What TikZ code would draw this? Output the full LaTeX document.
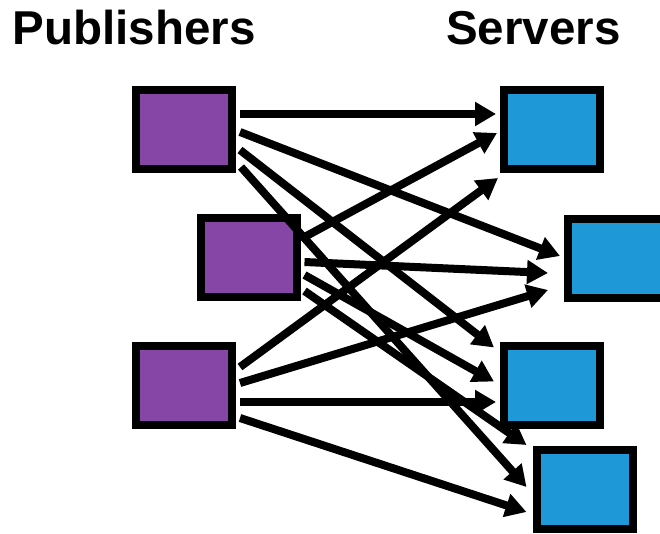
\documentclass[tikz,border=0pt]{standalone}
\usepackage{fontspec}
\setmainfont{Liberation Sans}
\usetikzlibrary{arrows.meta,calc}
\definecolor{pubpurple}{HTML}{8646A6}
\definecolor{srvblue}{HTML}{1E98D6}
\begin{document}
\begin{tikzpicture}[x=1pt,y=-1pt,
  box/.style={draw=black,line width=8pt,minimum width=96pt,minimum height=79pt,inner sep=0pt},
  pub/.style={box,fill=pubpurple},
  srv/.style={box,fill=srvblue},
  link/.style={line width=8pt,-{Triangle[length=21pt,width=23pt]}},
  title/.style={anchor=base west,inner sep=0pt,font=\fontsize{47.5}{54}\selectfont\bfseries}]
\useasboundingbox (0,0) rectangle (660,533);
\clip (0,0) rectangle (660,533);

% column headings
\node[title] (pubhead) at (12.5,44) {Publishers};
\node[title] (srvhead) at (446,44) {Servers};

% publishers
\node[pub] (p1) at (184,129.5) {};
\node[pub] (p2) at (248.5,257.5) {};
\node[pub] (p3) at (184,385.5) {};

% servers
\node[srv] (s1) at (552,129.5) {};
\node[srv] (s2) at (616,258) {};
\node[srv] (s3) at (552,385.5) {};
\node[srv] (s4) at (584.5,489.5) {};

% every publisher sends to every server
\draw[link] ($(p1.east)+(4,-15.5)$) -- ($(s1.west)+(-4,-15.5)$);
\draw[link] ($(p1.east)+(4,2.5)$)   -- ($(s2.west)+(-4,-2)$);
\draw[link] ($(p1.east)+(4,20.5)$)  -- ($(s3.west)+(-6,-38)$);
\draw[link] ($(p1.east)+(5,37.5)$)  -- ($(s4.west)+(-6,-2.5)$);

\draw[link] ($(p2.east)+(4,-20.5)$) -- ($(s1.west)+(-3,3.5)$);
\draw[link] ($(p2.east)+(4,4.5)$)   -- ($(s2.west)+(-16,15)$);
\draw[link] ($(p2.east)+(4,17.5)$)  -- ($(s3.west)+(-6,-4)$);
\draw[link] ($(p2.east)+(4,33.5)$)  -- ($(s4.west)+(-6,-44.5)$);

\draw[link] ($(p3.east)+(4,-18.5)$) -- ($(s1.west)+(-2,48.5)$);
\draw[link] ($(p3.east)+(4,-2.5)$)  -- ($(s2.west)+(-16,32)$);
\draw[link] ($(p3.east)+(4,16.5)$)  -- ($(s3.west)+(-4,16.5)$);
\draw[link] ($(p3.east)+(4,32.5)$)  -- ($(s4.west)+(-6,22.5)$);
\end{tikzpicture}
\end{document}
